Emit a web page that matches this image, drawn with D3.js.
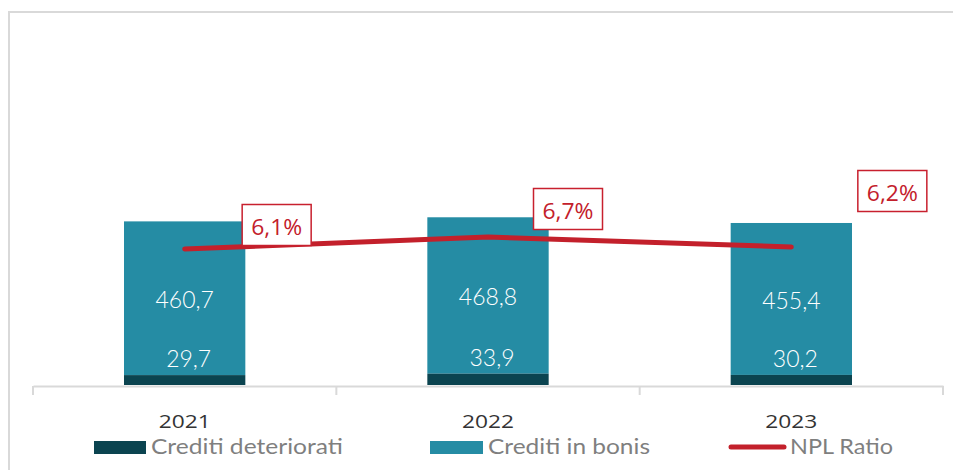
<!DOCTYPE html>
<html>
<head>
<meta charset="utf-8">
<script src="https://cdn.jsdelivr.net/npm/d3@7"></script>
<style>
  body { margin: 0; background: #fff; }
  svg { display: block; }
</style>
</head>
<body>
<svg id="chart" width="953" height="470"></svg>
<script>
// chart values
const years = ['2021', '2022', '2023'];
const deteriorati = [29.7, 33.9, 30.2];
const bonis = [460.7, 468.8, 455.4];
const nplRatio = [6.1, 6.7, 6.2];
const seriesNames = ['Crediti deteriorati', 'Crediti in bonis', 'NPL Ratio'];

const colDet = '#0b4450';
const colBonis = '#258ca4';
const colRed = '#c3202b';

const svg = d3.select('#chart');

// outer frame (runs off the right and bottom edge)
svg.append('rect')
  .attr('x', 9).attr('y', 12)
  .attr('width', 1000).attr('height', 500)
  .attr('fill', 'none')
  .attr('stroke', '#d9d9d9')
  .attr('stroke-width', 2);

let baseY = 385;
let xScale = d3.scaleBand()
  .domain(years)
  .range([33, 943])
  .padding(0);

let yScale = d3.scaleLinear()
  .domain([0, 1100])
  .range([baseY, 18]);

// secondary axis for the ratio (not drawn)
let y2Scale = d3.scaleLinear()
  .domain([0, 18])
  .range([371, 11]);

let barW = xScale.bandwidth() * 0.4;
let cx = d => xScale(d) + xScale.bandwidth() / 2;

let rows = years.map((y, i) => ({
  year: y, det: deteriorati[i], bonis: bonis[i], npl: nplRatio[i]
}));

// bars: deteriorati at the bottom, bonis stacked on top
let bars = svg.append('g');
bars.selectAll('rect.bonis')
  .data(rows)
  .enter()
  .append('rect')
    .attr('class', 'bonis')
    .attr('x', d => cx(d.year) - barW / 2)
    .attr('width', barW)
    .attr('y', d => yScale(d.det + d.bonis))
    .attr('height', d => yScale(d.det) - yScale(d.det + d.bonis))
    .attr('fill', colBonis);

bars.selectAll('rect.det')
  .data(rows)
  .enter()
  .append('rect')
    .attr('class', 'det')
    .attr('x', d => cx(d.year) - barW / 2)
    .attr('width', barW)
    .attr('y', d => yScale(d.det))
    .attr('height', d => baseY - yScale(d.det))
    .attr('fill', colDet);

// x axis
let xAxis = d3.axisBottom(xScale).tickSize(0).tickFormat('');
let axisG = svg.append('g')
  .attr('transform', `translate(0, ${baseY + 1})`)
  .call(xAxis);
axisG.select('.domain').attr('stroke', '#d9d9d9').attr('stroke-width', 2);
// tick marks on band boundaries
let bounds = years.map(y => xScale(y)).concat([xScale.range()[1]]);
axisG.selectAll('line.bound')
  .data(bounds)
  .enter()
  .append('line')
    .attr('class', 'bound')
    .attr('x1', d => d).attr('x2', d => d)
    .attr('y1', 0).attr('y2', 9)
    .attr('stroke', '#d9d9d9')
    .attr('stroke-width', 2);

svg.append('g').selectAll('text')
  .data(years)
  .enter()
  .append('text')
    .attr('x', d => cx(d))
    .attr('y', 428)
    .attr('text-anchor', 'middle')
    .attr('font-family', '"Open Sans", sans-serif')
    .attr('font-weight', 400)
    .attr('font-size', 19)
    .attr('fill', '#333333')
    .attr('textLength', 52)
    .attr('lengthAdjust', 'spacingAndGlyphs')
    .text(d => d);

// value labels inside bars
let valFmt = v => d3.format('.1f')(v).replace('.', ',');
let labG = svg.append('g')
  .attr('font-family', 'Lato, "Noto Sans", sans-serif')
  .attr('font-weight', 300)
  .attr('font-size', 23)
  .attr('fill', '#ffffff')
  .attr('text-anchor', 'middle')
  .attr('dominant-baseline', 'central');

labG.selectAll('text.bl')
  .data(rows)
  .enter()
  .append('text')
    .attr('x', d => cx(d.year))
    .attr('y', d => (yScale(d.det + d.bonis) + yScale(d.det)) / 2 + 1)
    .text(d => valFmt(d.bonis));

labG.selectAll('text.dl')
  .data(rows)
  .enter()
  .append('text')
    .attr('x', d => cx(d.year) + 4)
    .attr('y', d => yScale(d.det) - 17)
    .text(d => valFmt(d.det));

// NPL ratio line
let line = d3.line()
  .x(d => cx(d.year))
  .y(d => y2Scale(d.npl));

svg.append('path')
  .datum(rows)
  .attr('d', line)
  .attr('fill', 'none')
  .attr('stroke', colRed)
  .attr('stroke-width', 5)
  .attr('stroke-linecap', 'round')
  .attr('stroke-linejoin', 'round');

// ratio labels in boxes (offsets from the point, as placed in the original)
let boxShift = [[92, -24], [80, -28], [101, -56]];
let boxG = svg.append('g').selectAll('g')
  .data(rows)
  .enter()
  .append('g')
    .attr('transform', (d, i) =>
      `translate(${cx(d.year) + boxShift[i][0]}, ${y2Scale(d.npl) + boxShift[i][1]})`);

boxG.append('rect')
  .attr('x', -34.5).attr('y', -20.5)
  .attr('width', 69).attr('height', 41)
  .attr('fill', '#ffffff')
  .attr('stroke', '#c8202e')
  .attr('stroke-width', 1.5);

boxG.append('text')
  .attr('text-anchor', 'middle')
  .attr('dominant-baseline', 'central')
  .attr('y', 1)
  .attr('font-family', '"Open Sans", sans-serif')
  .attr('font-weight', 400)
  .attr('font-size', 22)
  .attr('fill', colRed)
  .attr('textLength', 51)
  .attr('lengthAdjust', 'spacingAndGlyphs')
  .text(d => valFmt(d.npl) + '%');

// legend
let legX = [94, 430, 729];
let legTextX = [151, 488, 790];
let legW = [192, 162, 103];
let leg = svg.append('g');
leg.append('rect')
  .attr('x', legX[0]).attr('y', 441)
  .attr('width', 52).attr('height', 13)
  .attr('fill', colDet);
leg.append('rect')
  .attr('x', legX[1]).attr('y', 441)
  .attr('width', 53).attr('height', 13)
  .attr('fill', colBonis);
leg.append('line')
  .attr('x1', legX[2] + 2).attr('x2', legX[2] + 55)
  .attr('y1', 447).attr('y2', 447)
  .attr('stroke', colRed)
  .attr('stroke-width', 5)
  .attr('stroke-linecap', 'round');

leg.selectAll('text')
  .data(seriesNames)
  .enter()
  .append('text')
    .attr('x', (d, i) => legTextX[i])
    .attr('y', 454)
    .attr('font-family', 'Lato, "Open Sans", sans-serif')
    .attr('font-size', 22)
    .attr('fill', '#7f7f7f')
    .attr('textLength', (d, i) => legW[i])
    .attr('lengthAdjust', 'spacingAndGlyphs')
    .text(d => d);
</script>
</body>
</html>
